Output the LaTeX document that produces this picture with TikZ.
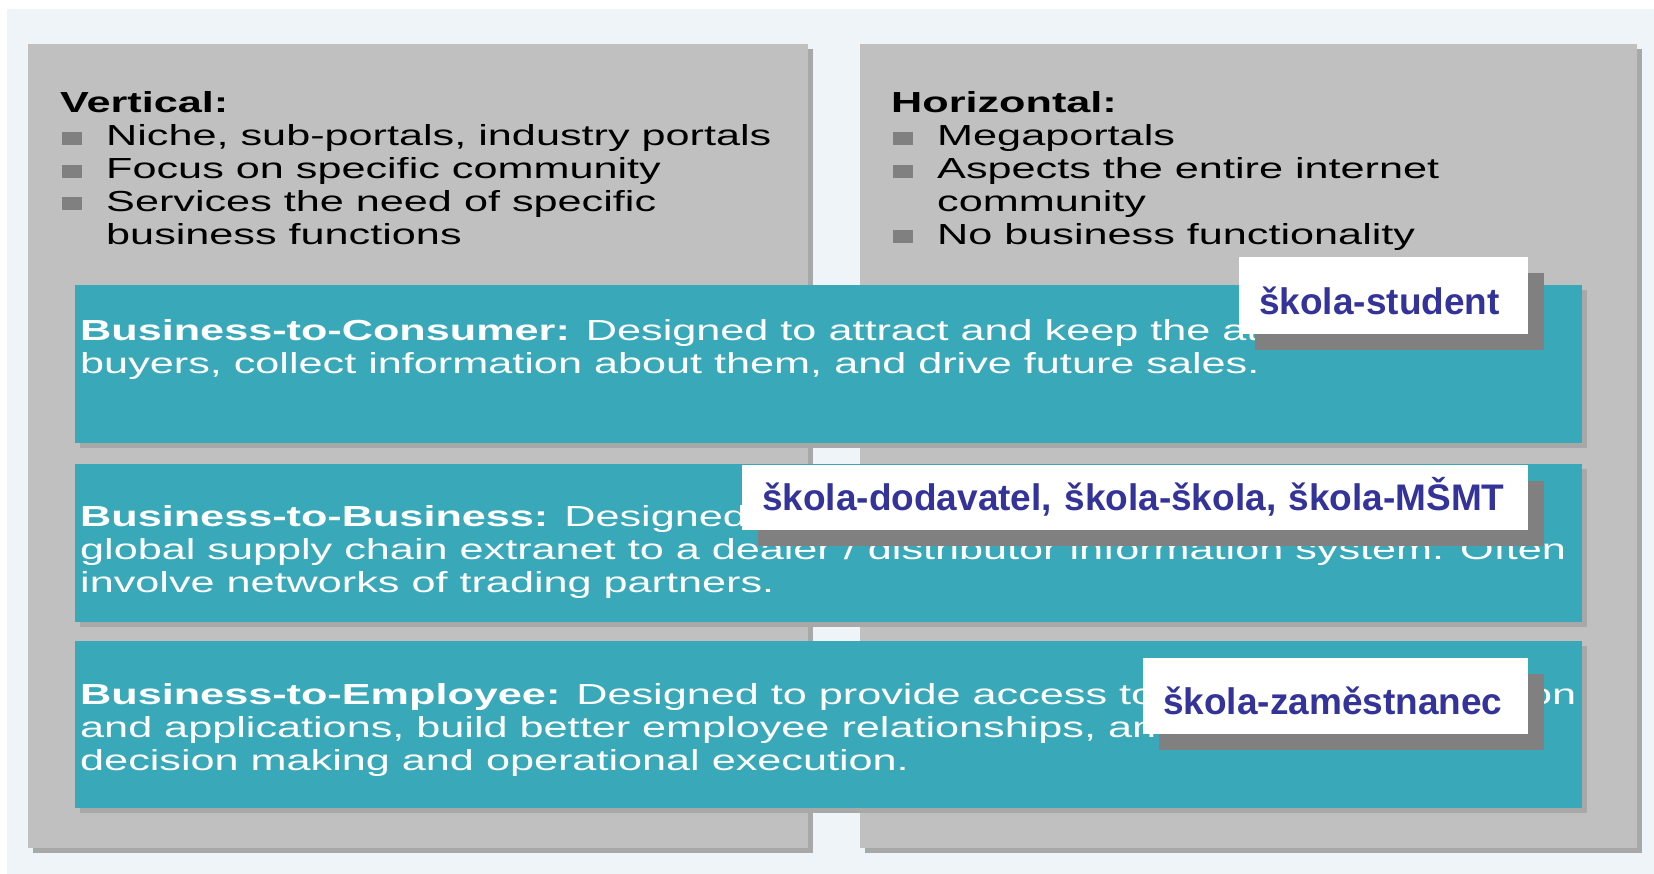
\documentclass[tikz,border=0pt]{standalone}
\usepackage{fontspec}
\setmainfont{Liberation Sans}
\newfontfamily\widefont[FakeStretch=1.49]{Liberation Sans}
\usepackage{tikz}
\usetikzlibrary{positioning}
\usetikzlibrary{shadows}
\definecolor{backblue}{RGB}{239,244,248}
\definecolor{panelgray}{RGB}{192,192,192}
\definecolor{shadegray}{RGB}{168,168,168}
\definecolor{bandteal}{RGB}{57,169,186}
\definecolor{tagblue}{RGB}{51,51,153}
\definecolor{tagshade}{RGB}{128,128,128}
\definecolor{bulletgray}{RGB}{128,128,128}
\tikzstyle{panel} = [rectangle, fill=panelgray, inner sep=0pt, anchor=north west,
drop shadow={shadow xshift=5pt, shadow yshift=-5pt, fill=shadegray, opacity=1}]
\tikzstyle{band} = [panel, fill=bandteal]
\tikzstyle{textline} = [inner sep=0pt, anchor=base west,
font=\widefont\fontsize{29}{33}\selectfont]
\tikzstyle{item} = [textline, text=black]
\tikzstyle{bandline} = [textline, text=white]
\tikzstyle{bullet} = [rectangle, fill=bulletgray, minimum width=20pt, minimum height=13pt,
inner sep=0pt, yshift=7.5pt, node distance=24pt]
\tikzstyle{tag} = [rectangle, fill=white, inner xsep=20pt, inner ysep=0pt, anchor=north west,
align=left, text depth=20pt, text=tagblue, font=\bfseries\fontsize{37}{40}\selectfont,
drop shadow={shadow xshift=16pt, shadow yshift=-16pt, fill=tagshade, opacity=1}]

\begin{document}
\begin{tikzpicture}[x=1pt, y=-1pt]
\useasboundingbox (0,0) rectangle (1654,874);
\fill[white] (0,0) rectangle (1654,874);
\fill[backblue] (7,9) rectangle (1654,874);

        \node[panel, minimum width=780pt, minimum height=804pt] (vert) at (28,44) {};
        \node[panel, minimum width=777pt, minimum height=804pt] (horiz) at (860,44) {};

        % vertical portals
        \node[item] (v0) at (60,113) {\textbf{Vertical:}};
        \node[item] (v1) at (106,146) {Niche, sub-portals, industry portals}; %
        \node[bullet, left=of v1.base west] (bv1) {};
        \node[item] (v2) at (106,178.7) {Focus on specific community}; %
        \node[bullet, left=of v2.base west] (bv2) {};
        \node[item] (v3) at (106,211.4) {Services the need of specific}; %
        \node[bullet, left=of v3.base west] (bv3) {};
        \node[item] (v4) at (106,244.1) {business functions}; %

        % horizontal portals
        \node[item] (h0) at (891,113) {\textbf{Horizontal:}};
        \node[item] (h1) at (937,146) {Megaportals}; %
        \node[bullet, left=of h1.base west] (bh1) {};
        \node[item] (h2) at (937,178.7) {Aspects the entire internet}; %
        \node[bullet, left=of h2.base west] (bh2) {};
        \node[item] (h3) at (937,211.4) {community}; %
        \node[item] (h4) at (937,244.1) {No business functionality}; %
        \node[bullet, left=of h4.base west] (bh4) {};

        % business bands
        \node[band, minimum width=1507pt, minimum height=158pt] (b2c) at (75,285) {};
        \node[bandline] (c1) at (80,340.5) {\textbf{Business-to-Consumer:} Designed to attract and keep the at}; %
        \node[bandline] (c2) at (80,373.2) {buyers, collect information about them, and drive future sales.}; %

        \node[band, minimum width=1507pt, minimum height=158pt] (b2b) at (75,464) {};
        \node[bandline] (bb1) at (80,526) {\textbf{Business-to-Business:} Designed}; %
        \node[bandline] (bb2) at (80,559.5) {global supply chain extranet to a dealer / distributor information system. Often}; %
        \node[bandline] (bb3) at (80,592.5) {involve networks of trading partners.}; %

        \node[band, minimum width=1507pt, minimum height=167pt] (b2e) at (75,641) {};
        \node[bandline] (e1) at (80,704.5) {\textbf{Business-to-Employee:} Designed to provide access to}; %
        \node[bandline] (e1b) at (1528,704.5) {on}; %
        \node[bandline] (e2) at (80,737.2) {and applications, build better employee relationships, an}; %
        \node[bandline] (e3) at (80,770) {decision making and operational execution.}; %

        % school labels
        \node[tag, text width=249pt, text height=57pt] (tstudent) at (1239,257) {škola-student};
        \node[tag, text width=746pt, text height=45pt] (tsupplier) at (742,465) {škola-dodavatel, škola-škola, škola-MŠMT};
        \node[tag, text width=345pt, text height=56pt] (temployee) at (1143,658) {škola-zaměstnanec};
\end{tikzpicture}
\end{document}
